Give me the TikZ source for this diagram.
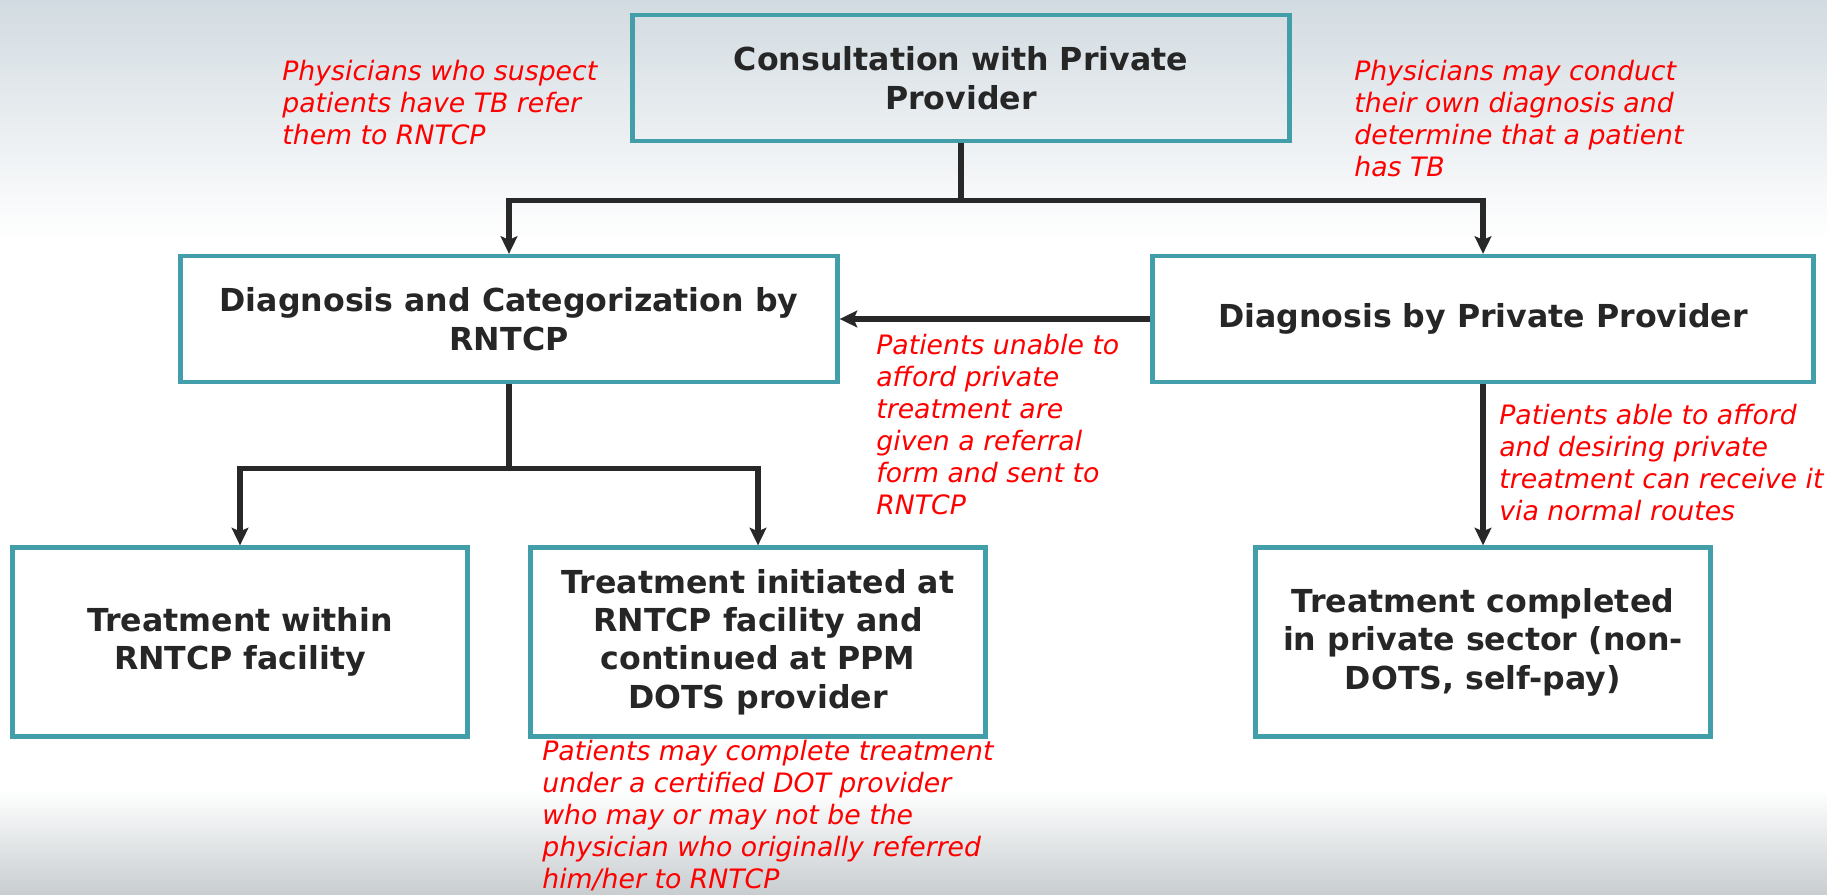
\documentclass[tikz,border=0pt]{standalone}
\usepackage{fontspec}
\setmainfont{DejaVu Sans}
\usepackage{xcolor}
\usepackage{tikz}
\usetikzlibrary{shapes,arrows.meta}
\definecolor{boxteal}{RGB}{66,158,168}
\definecolor{linegray}{RGB}{40,40,40}
\definecolor{notered}{RGB}{255,0,0}
\definecolor{skygray}{RGB}{210,219,225}
\definecolor{floorgray}{RGB}{200,205,208}
\tikzstyle{block} = [rectangle, draw=boxteal, line width=2.4pt, text=black!85,
    font=\fontsize{18}{21.9}\selectfont\bfseries, align=center, inner sep=0pt]
\tikzstyle{wideblock} = [block, minimum width=13.14cm, minimum height=2.52cm]
\tikzstyle{tallblock} = [block, minimum width=9.1cm, minimum height=3.78cm]
\tikzstyle{note} = [text=notered, font=\fontsize{15.2}{18.2}\selectfont\itshape,
    align=left, anchor=north west, inner sep=0pt]
\tikzstyle{arrow} = [draw=linegray, -{Stealth[length=10pt, width=9.5pt, inset=2pt]}, line width=2.9pt]
\tikzstyle{line} = [draw=linegray, line width=2.9pt]

\begin{document}
\begin{tikzpicture}[x=0.2mm, y=-0.2mm]
			% Background
			\useasboundingbox (0,0) rectangle (1827,895);
			\shade [top color=skygray, bottom color=white] (0,0) rectangle (1827,240);
			\shade [top color=white, bottom color=floorgray] (0,790) rectangle (1827,895);
			% Place nodes
			\node [wideblock] (consultation) at (961,78) {Consultation with Private\\Provider};
			\node [wideblock] (diagRNTCP) at (509,319) {Diagnosis and Categorization by\\RNTCP};
			\node [wideblock, minimum width=13.22cm] (diagPrivate) at (1483,319) {Diagnosis by Private Provider};
			\node [tallblock] (treatWithin) at (240,642) {Treatment within\\RNTCP facility};
			\node [tallblock] (treatInitiated) at (758,642) {Treatment initiated at\\RNTCP facility and\\continued at PPM\\DOTS provider};
			\node [tallblock] (treatPrivate) at (1483,642) {Treatment completed\\in private sector (non-\\DOTS, self-pay)};
			% Notes
			\node [note] (noteRefer) at (282,60) {Physicians who suspect\\patients have TB refer\\them to RNTCP};
			\node [note] (noteOwnDiag) at (1354,60) {Physicians may conduct\\their own diagnosis and\\determine that a patient\\has TB};
			\node [note] (noteUnable) at (876,334) {Patients unable to\\afford private\\treatment are\\given a referral\\form and sent to\\RNTCP};
			\node [note] (noteAble) at (1499,404) {Patients able to afford\\and desiring private\\treatment can receive it\\via normal routes};
			\node [note] (noteComplete) at (542,740) {Patients may complete treatment\\under a certified DOT provider\\who may or may not be the\\physician who originally referred\\him/her to RNTCP};
			%
			\path [line] (consultation.south) -- ++(0,57) coordinate (splitTop);
			\path [arrow] (splitTop) -| (diagRNTCP.north);
			\path [arrow] (splitTop) -| (diagPrivate.north);
			\path [arrow] (diagPrivate) -- (diagRNTCP);
			\path [line] (diagRNTCP.south) -- ++(0,84) coordinate (splitLeft);
			\path [arrow] (splitLeft) -| (treatWithin.north);
			\path [arrow] (splitLeft) -| (treatInitiated.north);
			\path [arrow] (diagPrivate) -- (treatPrivate);
\end{tikzpicture}
\end{document}
